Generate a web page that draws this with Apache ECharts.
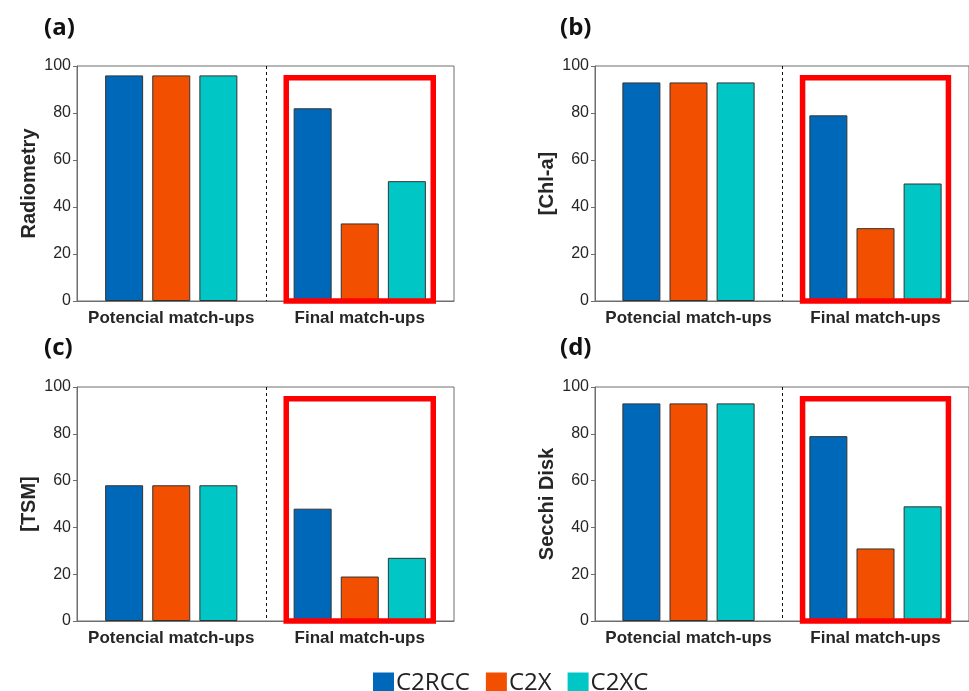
<!DOCTYPE html>
<html>
<head>
<meta charset="utf-8">
<script src="https://cdn.jsdelivr.net/npm/echarts@6/dist/echarts.min.js"></script>
<style>
  html, body { margin: 0; padding: 0; background: #fff; }
  #chart { width: 969px; height: 691px; }
</style>
</head>
<body>
<div id="chart"></div>
<script>
// Match-up counts per processor, four water-quality variables
const categories = ['Potencial match-ups', 'Final match-ups'];
const panelLabels = ['(a)', '(b)', '(c)', '(d)'];
const yNames = ['Radiometry', '[Chl-a]', '[TSM]', 'Secchi Disk'];
const seriesNames = ['C2RCC', 'C2X', 'C2XC'];
const c2rcc = [[96, 82], [93, 79], [58, 48], [93, 79]];
const c2x   = [[96, 33], [93, 31], [58, 19], [93, 31]];
const c2xc  = [[96, 51], [93, 50], [58, 27], [93, 49]];
const yMin = 0, yMax = 100, yStep = 20;
const boxTop = 95;   // upper edge of the highlight frame around "Final match-ups"

const colors = ['#0068B9', '#F24F00', '#00C6C6'];
const grids = [
  { left: 77,  top: 66,  width: 377, height: 235 },
  { left: 595, top: 66,  width: 377, height: 235 },
  { left: 77,  top: 387, width: 377, height: 234 },
  { left: 595, top: 387, width: 377, height: 234 }
];
const labelPos = [[44, 16], [560, 16], [44, 336], [560, 336]];

const valueSets = [c2rcc, c2x, c2xc];
const option = {
  animation: false,
  backgroundColor: '#fff',
  title: panelLabels.map((t, i) => ({
    text: t,
    left: labelPos[i][0],
    top: labelPos[i][1],
    padding: 0,
    textStyle: { fontFamily: 'Open Sans', fontWeight: 'bold', fontSize: 24, color: '#111' }
  })),
  legend: {
    data: seriesNames,
    left: 368,
    top: 666,
    itemWidth: 21,
    itemHeight: 21,
    itemGap: 16,
    icon: 'rect',
    itemStyle: { borderWidth: 0 },
    textStyle: { fontFamily: 'Open Sans', fontSize: 24, color: '#222', padding: [0, 0, 0, -3] }
  },
  grid: grids.map(g => Object.assign({ show: true, borderColor: '#6e6e6e', borderWidth: 1, backgroundColor: 'transparent' }, g)),
  xAxis: grids.map((g, i) => ({
    type: 'category',
    gridIndex: i,
    data: categories,
    axisLine: { lineStyle: { color: '#6e6e6e', width: 1 } },
    axisTick: { show: false },
    axisLabel: { interval: 0, fontFamily: 'Liberation Sans', fontWeight: 'bold', fontSize: 17, color: '#262626', margin: 9 }
  })),
  yAxis: grids.map((g, i) => ({
    type: 'value',
    gridIndex: i,
    min: yMin,
    max: yMax,
    interval: yStep,
    name: yNames[i],
    nameLocation: 'middle',
    nameGap: 38,
    nameTextStyle: { fontFamily: 'Liberation Sans', fontWeight: 'bold', fontSize: 20, color: '#262626' },
    axisLine: { show: true, lineStyle: { color: '#6e6e6e', width: 1 } },
    axisTick: { show: true, length: 4, lineStyle: { color: '#6e6e6e' } },
    splitLine: { show: false },
    axisLabel: { fontFamily: 'Liberation Sans', fontSize: 16, color: '#262626', margin: 6 }
  })),
  series: []
};

grids.forEach((g, i) => {
  seriesNames.forEach((name, k) => {
    option.series.push({
      type: 'bar',
      name: name,
      xAxisIndex: i,
      yAxisIndex: i,
      data: valueSets[k][i],
      barWidth: 38,
      barGap: '24%',
      itemStyle: { color: colors[k], borderColor: '#333', borderWidth: 1 }
    });
  });
  // dashed divider between the two groups and red frame around the final group
  option.series.push({
    type: 'custom',
    xAxisIndex: i,
    yAxisIndex: i,
    silent: true,
    z: 5,
    data: [[1, boxTop]],
    encode: { x: 0, y: 1 },
    renderItem: function (params, api) {
      const band = api.size([1, 0])[0];
      const top = api.coord([1, api.value(1)]);
      const base = api.coord([1, yMin]);
      const plotTop = api.coord([1, yMax]);
      const divX = Math.round(top[0] - band / 2) + 0.5;
      const w = band * 0.78;
      return {
        type: 'group',
        children: [
          {
            type: 'line',
            shape: { x1: divX, y1: plotTop[1], x2: divX, y2: base[1] },
            style: { stroke: '#111', lineWidth: 1, lineDash: [3, 3] }
          },
          {
            type: 'rect',
            shape: { x: top[0] - w / 2, y: top[1], width: w, height: base[1] - top[1] },
            style: { fill: null, stroke: '#FF0000', lineWidth: 5.5 }
          }
        ]
      };
    }
  });
});

const chart = echarts.init(document.getElementById('chart'), null, { renderer: 'canvas' });
chart.setOption(option);
</script>
</body>
</html>
